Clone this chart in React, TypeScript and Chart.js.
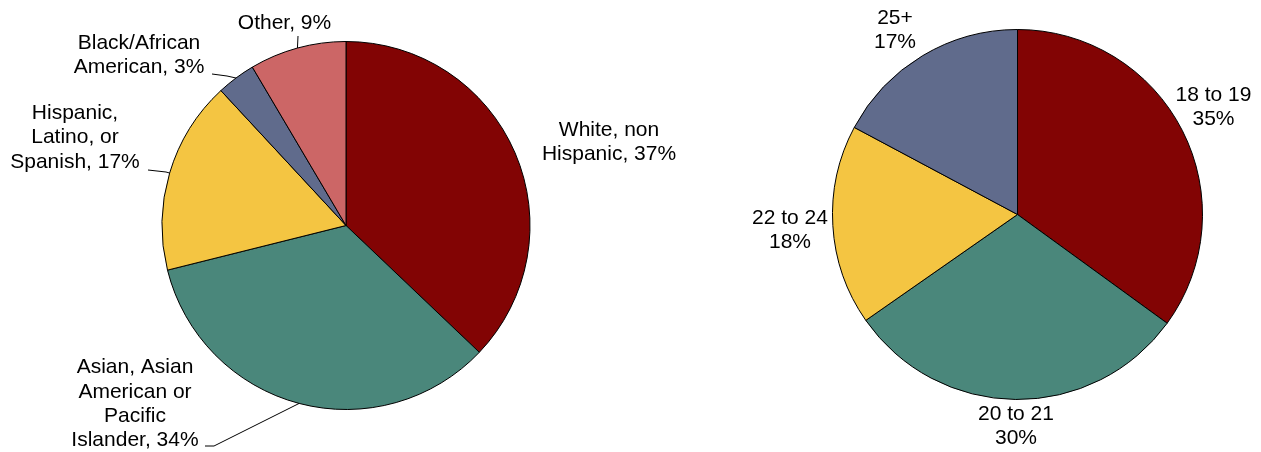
import React, { useEffect, useRef } from "react";
import { Chart, registerables } from "chart.js";

Chart.register(...registerables);

// ---- Data ----
const raceCategories = [
  "White, non Hispanic",
  "Asian, Asian American or Pacific Islander",
  "Hispanic, Latino, or Spanish",
  "Black/African American",
  "Other",
];
const raceValues = [37.1, 34.0, 17.0, 3.4, 8.5];
const raceLabelLines = [
  ["White, non", "Hispanic,"],
  ["Asian, Asian", "American or", "Pacific", "Islander,"],
  ["Hispanic,", "Latino, or", "Spanish,"],
  ["Black/African", "American,"],
  ["Other,"],
];

const ageCategories = ["18 to 19", "20 to 21", "22 to 24", "25+"];
const ageValues = [35.0, 30.3, 17.5, 17.2];

// ---- Styles ----
const raceColors = ["#820404", "#4A877B", "#F4C542", "#606B8C", "#CC6666"];
const ageColors = ["#820404", "#4A877B", "#F4C542", "#606B8C"];
const FONT = '21px "Liberation Sans", Arial, sans-serif';
const LINE_H = 24.3;

// label layout: offset of label block centre from pie centre, leader polyline (start, elbow) offsets
type LabelLayout = { dx: number; dy: number; leader?: number[][] };
const raceLayout: LabelLayout[] = [
  { dx: 263, dy: -83.5 },
  { dx: -211, dy: 178.5, leader: [[-141, 220.5], [-132, 220.5]] },
  { dx: -271, dy: -88, leader: [[-198, -55.5], [-180, -53.5]] },
  { dx: -207, dy: -170.5, leader: [[-134, -151.5], [-119, -149.5]] },
  { dx: -61.5, dy: -202.5, leader: [[-48, -189.5]] },
];
const ageLayout: LabelLayout[] = [
  { dx: 196, dy: -107 },
  { dx: -1.5, dy: 212 },
  { dx: -227.5, dy: 15.5 },
  { dx: -122.5, dy: -184 },
];

const sliceLabelPlugin = {
  id: "sliceLabels",
  afterDatasetsDraw(chart: any, _args: any, opts: any) {
    const meta = chart.getDatasetMeta(0);
    const ctx = chart.ctx;
    ctx.save();
    ctx.font = FONT;
    ctx.fillStyle = "#000";
    ctx.textAlign = "center";
    ctx.textBaseline = "middle";
    meta.data.forEach((arc: any, i: number) => {
      const p = arc.getProps(["x", "y", "startAngle", "endAngle", "outerRadius"], true);
      const lay: LabelLayout = opts.layout[i];
      const lines: string[] = opts.lines[i];
      const cx = p.x + lay.dx;
      const cy = p.y + lay.dy;
      const top = cy - ((lines.length - 1) * LINE_H) / 2;
      lines.forEach((ln, k) => ctx.fillText(ln, cx, top + k * LINE_H));
      if (lay.leader) {
        const mid = (p.startAngle + p.endAngle) / 2;
        const ex = p.x + Math.cos(mid) * p.outerRadius;
        const ey = p.y + Math.sin(mid) * p.outerRadius;
        ctx.beginPath();
        ctx.strokeStyle = "#000";
        ctx.lineWidth = 1;
        lay.leader.forEach((pt, k) => {
          const px = p.x + pt[0];
          const py = p.y + pt[1];
          if (k === 0) ctx.moveTo(px, py);
          else ctx.lineTo(px, py);
        });
        ctx.lineTo(ex, ey);
        ctx.stroke();
      }
    });
    ctx.restore();
  },
};

function PieCanvas(props: {
  width: number;
  left: number;
  labels: string[];
  values: number[];
  colors: string[];
  lines: string[][];
  layout: LabelLayout[];
  padding: { left: number; right: number; top: number; bottom: number };
}) {
  const ref = useRef<HTMLCanvasElement | null>(null);
  useEffect(() => {
    if (!ref.current) return;
    const chart = new Chart(ref.current, {
      type: "pie",
      data: {
        labels: props.labels,
        datasets: [
          {
            data: props.values,
            backgroundColor: props.colors,
            borderColor: "#000000",
            borderWidth: 1,
          },
        ],
      },
      options: {
        responsive: false,
        animation: false,
        layout: { padding: props.padding },
        plugins: {
          legend: { display: false },
          tooltip: { enabled: false },
          sliceLabels: { lines: props.lines, layout: props.layout },
        } as any,
      },
      plugins: [sliceLabelPlugin],
    });
    return () => chart.destroy();
  }, []);
  return (
    <canvas
      ref={ref}
      width={props.width}
      height={452}
      style={{ position: "absolute", left: props.left, top: 0, width: props.width, height: 452 }}
    />
  );
}

export default function App() {
  const pct = (v: number) => `${Math.round(v)}%`;
  const raceLines = raceLabelLines.map((ls, i) => [
    ...ls.slice(0, -1),
    `${ls[ls.length - 1]} ${pct(raceValues[i])}`,
  ]);
  const ageLines = ageCategories.map((c, i) => [c, pct(ageValues[i])]);
  return (
    <div
      style={{
        position: "fixed",
        left: 0,
        top: 0,
        width: 1261,
        height: 452,
        background: "#ffffff",
      }}
    >
      <PieCanvas
        width={700}
        left={0}
        labels={raceCategories}
        values={raceValues}
        colors={raceColors}
        lines={raceLines}
        layout={raceLayout}
        padding={{ left: 161.5, right: 169.5, top: 41, bottom: 42 }}
      />
      <PieCanvas
        width={561}
        left={700}
        labels={ageCategories}
        values={ageValues}
        colors={ageColors}
        lines={ageLines}
        layout={ageLayout}
        padding={{ left: 132, right: 58, top: 29, bottom: 52 }}
      />
    </div>
  );
}
